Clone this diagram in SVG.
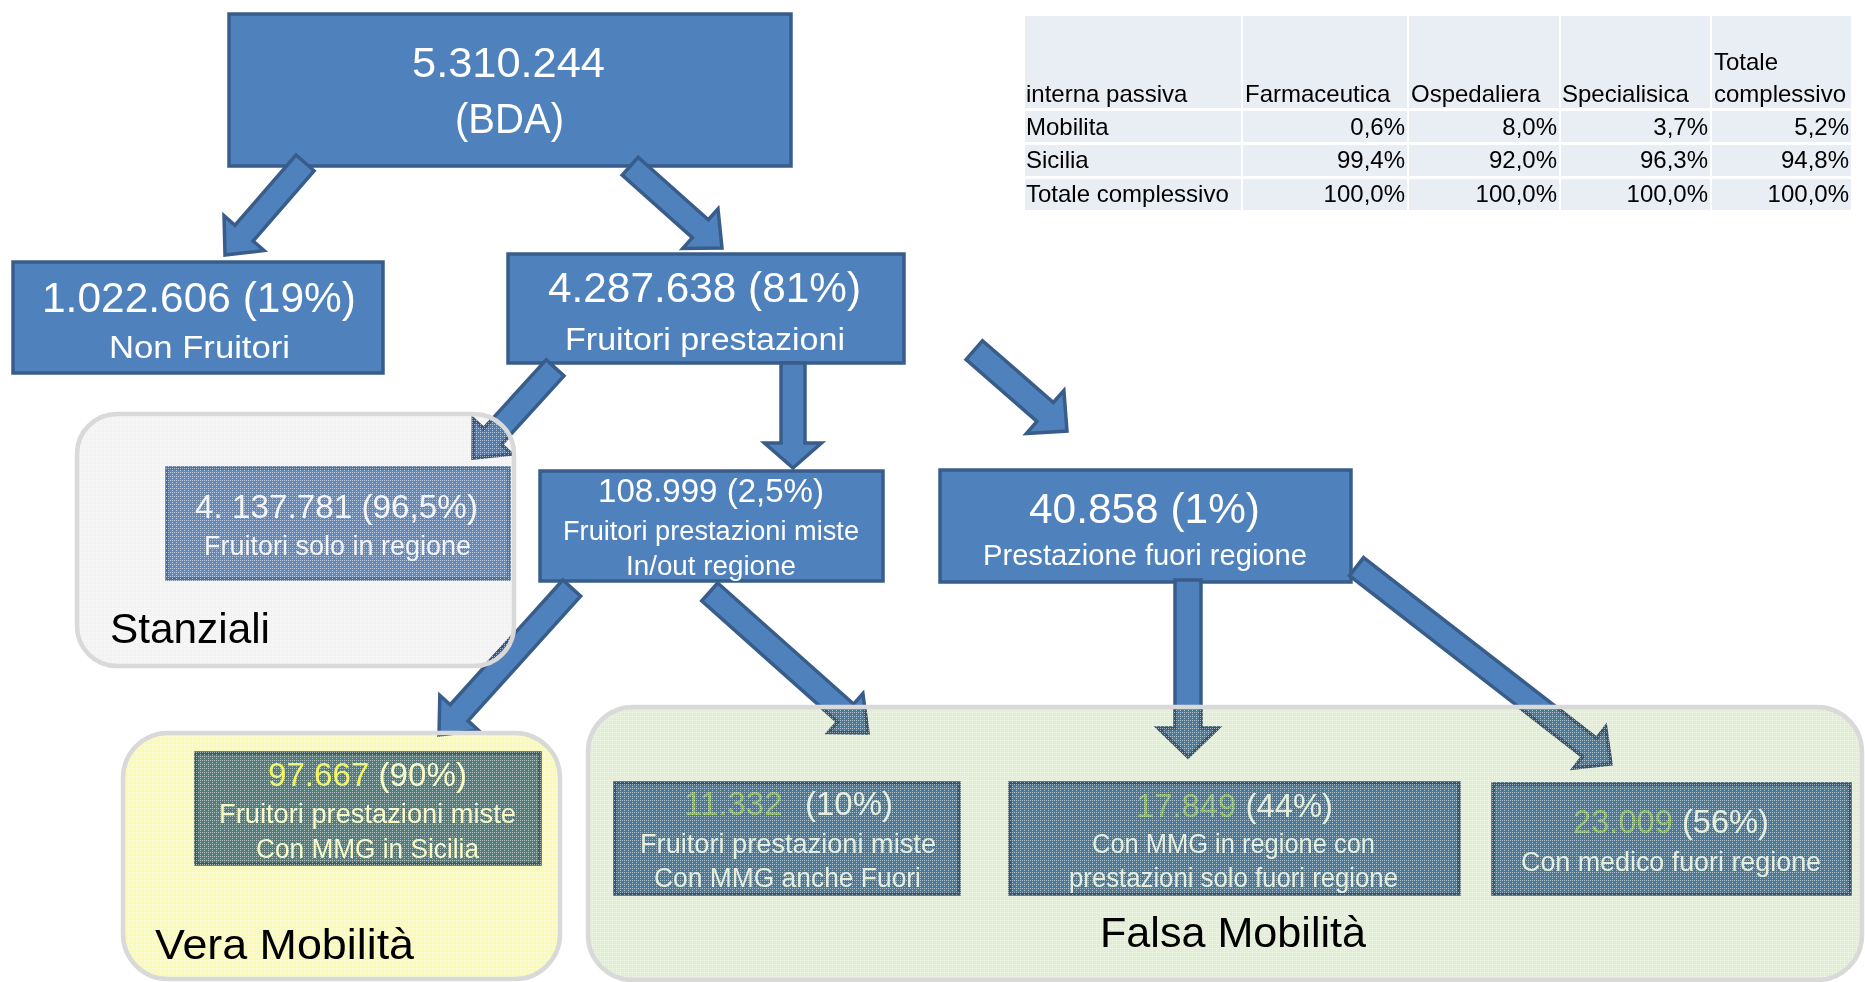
<svg xmlns="http://www.w3.org/2000/svg" width="1865" height="982" viewBox="0 0 1865 982">
<defs>
<pattern id="dots" width="4" height="4" patternUnits="userSpaceOnUse">
<rect x="0" y="0" width="1" height="1" fill="#fff"/>
<rect x="2" y="0" width="1" height="1" fill="#fff"/>
<rect x="0" y="2" width="1" height="1" fill="#fff"/>
</pattern>
</defs>
<style>
.box{fill:#4f81bd;stroke:#385d8a;stroke-width:3.5}
.boxl{fill:#6690c7;stroke:#4f76a8;stroke-width:3.5}
.arr{fill:#4f81bd;stroke:#385d8a;stroke-width:3.5;stroke-linejoin:miter}
.t{font-family:"Liberation Sans",Arial,sans-serif;fill:#fff;text-anchor:middle}
.n42{font-size:42px}
.n33{font-size:33px}
.s27{font-size:27px}
.s31{font-size:31px}
.lbl{font-family:"Liberation Sans",Arial,sans-serif;fill:#000;font-size:43px}
.tb{font-family:"Liberation Sans",Arial,sans-serif;fill:#000;font-size:24px}
.r{text-anchor:end}
.cell{fill:#e9edf4}
.ov{mix-blend-mode:multiply}
.dots{fill:url(#dots);opacity:0.55}
.frame{fill:none;stroke:#d9d9d9;stroke-width:4.5}
.yel{fill:#ffff00}
.grn{fill:#92d050}
</style>

<g id="table">
<rect class="cell" x="1025" y="16" width="216" height="92"/>
<rect class="cell" x="1243" y="16" width="164" height="92"/>
<rect class="cell" x="1409" y="16" width="150" height="92"/>
<rect class="cell" x="1561" y="16" width="149" height="92"/>
<rect class="cell" x="1712" y="16" width="139" height="92"/>
<rect class="cell" x="1025" y="111" width="216" height="31"/>
<rect class="cell" x="1243" y="111" width="164" height="31"/>
<rect class="cell" x="1409" y="111" width="150" height="31"/>
<rect class="cell" x="1561" y="111" width="149" height="31"/>
<rect class="cell" x="1712" y="111" width="139" height="31"/>
<rect class="cell" x="1025" y="145" width="216" height="31"/>
<rect class="cell" x="1243" y="145" width="164" height="31"/>
<rect class="cell" x="1409" y="145" width="150" height="31"/>
<rect class="cell" x="1561" y="145" width="149" height="31"/>
<rect class="cell" x="1712" y="145" width="139" height="31"/>
<rect class="cell" x="1025" y="179" width="216" height="31"/>
<rect class="cell" x="1243" y="179" width="164" height="31"/>
<rect class="cell" x="1409" y="179" width="150" height="31"/>
<rect class="cell" x="1561" y="179" width="149" height="31"/>
<rect class="cell" x="1712" y="179" width="139" height="31"/>
<text class="tb" x="1026" y="102">interna passiva</text>
<text class="tb" x="1245" y="102">Farmaceutica</text>
<text class="tb" x="1411" y="102">Ospedaliera</text>
<text class="tb" x="1562" y="102">Specialisica</text>
<text class="tb" x="1714" y="70">Totale</text>
<text class="tb" x="1714" y="102">complessivo</text>
<text class="tb" x="1026" y="135">Mobilita</text>
<text class="tb r" x="1405" y="135">0,6%</text>
<text class="tb r" x="1557" y="135">8,0%</text>
<text class="tb r" x="1708" y="135">3,7%</text>
<text class="tb r" x="1849" y="135">5,2%</text>
<text class="tb" x="1026" y="168">Sicilia</text>
<text class="tb r" x="1405" y="168">99,4%</text>
<text class="tb r" x="1557" y="168">92,0%</text>
<text class="tb r" x="1708" y="168">96,3%</text>
<text class="tb r" x="1849" y="168">94,8%</text>
<text class="tb" x="1026" y="202">Totale complessivo</text>
<text class="tb r" x="1405" y="202">100,0%</text>
<text class="tb r" x="1557" y="202">100,0%</text>
<text class="tb r" x="1708" y="202">100,0%</text>
<text class="tb r" x="1849" y="202">100,0%</text>
</g>

<g id="node-bda">
<rect class="box" x="229" y="14" width="562" height="152"/>
<text class="t n42" x="508.5" y="77" textLength="193" lengthAdjust="spacingAndGlyphs">5.310.244</text>
<text class="t n42" x="509.5" y="133" textLength="109" lengthAdjust="spacingAndGlyphs">(BDA)</text>
</g>

<g id="node-non-fruitori">
<rect class="box" x="13" y="262" width="370" height="111"/>
<text class="t n42" x="199" y="312" textLength="314" lengthAdjust="spacingAndGlyphs">1.022.606 (19%)</text>
<text class="t s31" x="199.5" y="358" textLength="181" lengthAdjust="spacingAndGlyphs">Non Fruitori</text>
</g>

<g id="node-fruitori">
<rect class="box" x="508" y="254" width="396" height="109"/>
<text class="t n42" x="704.5" y="302" textLength="313" lengthAdjust="spacingAndGlyphs">4.287.638 (81%)</text>
<text class="t s31" x="705" y="350" textLength="280" lengthAdjust="spacingAndGlyphs">Fruitori prestazioni</text>
</g>

<g id="node-solo-regione">
<rect class="boxl" x="167" y="468" width="342" height="111"/>
<text class="t n33" x="336.5" y="518" textLength="283" lengthAdjust="spacingAndGlyphs">4. 137.781 (96,5%)</text>
<text class="t s27" x="337.5" y="555" textLength="267" lengthAdjust="spacingAndGlyphs">Fruitori solo in regione</text>
</g>

<g id="node-miste">
<rect class="box" x="540" y="471" width="343" height="110"/>
<text class="t n33" x="711" y="502" textLength="226" lengthAdjust="spacingAndGlyphs">108.999 (2,5%)</text>
<text class="t s27" x="711" y="540" textLength="296" lengthAdjust="spacingAndGlyphs">Fruitori prestazioni miste</text>
<text class="t s27" x="711" y="575" textLength="170" lengthAdjust="spacingAndGlyphs">In/out regione</text>
</g>

<g id="node-fuori">
<rect class="box" x="940" y="470" width="411" height="112"/>
<text class="t n42" x="1144.5" y="523" textLength="231" lengthAdjust="spacingAndGlyphs">40.858 (1%)</text>
<text class="t" style="font-size:29px" x="1145" y="565" textLength="324" lengthAdjust="spacingAndGlyphs">Prestazione fuori regione</text>
</g>

<g id="node-mmg-sicilia">
<rect class="box" x="196" y="753" width="344" height="111"/>
<text class="t n33" x="367.5" y="786" textLength="199" lengthAdjust="spacingAndGlyphs"><tspan class="yel">97.667</tspan> (90%)</text>
<text class="t s27" x="367.5" y="823" textLength="297" lengthAdjust="spacingAndGlyphs">Fruitori prestazioni miste</text>
<text class="t s27" x="367.5" y="858" textLength="223" lengthAdjust="spacingAndGlyphs">Con MMG in Sicilia</text>
</g>

<g id="node-mmg-fuori">
<rect class="box" x="615" y="783" width="344" height="111"/>
<text class="t n33" style="text-anchor:start" x="684" y="815"><tspan class="grn">11.332</tspan><tspan x="805">(10%)</tspan></text>
<text class="t s27" x="788" y="853" textLength="296" lengthAdjust="spacingAndGlyphs">Fruitori prestazioni miste</text>
<text class="t s27" x="787.5" y="887" textLength="267" lengthAdjust="spacingAndGlyphs">Con MMG anche Fuori</text>
</g>

<g id="node-mmg-regione">
<rect class="box" x="1010" y="783" width="449" height="111"/>
<text class="t n33" x="1234.5" y="817" textLength="197" lengthAdjust="spacingAndGlyphs"><tspan class="grn">17.849</tspan> (44%)</text>
<text class="t s27" x="1233.5" y="853" textLength="283" lengthAdjust="spacingAndGlyphs">Con MMG in regione con</text>
<text class="t s27" x="1233.5" y="887" textLength="329" lengthAdjust="spacingAndGlyphs">prestazioni solo fuori regione</text>
</g>

<g id="node-medico-fuori">
<rect class="box" x="1493" y="784" width="357" height="110"/>
<text class="t n33" x="1671" y="833" textLength="196" lengthAdjust="spacingAndGlyphs"><tspan class="grn">23.009</tspan> (56%)</text>
<text class="t s27" x="1671" y="871" textLength="300" lengthAdjust="spacingAndGlyphs">Con medico fuori regione</text>
</g>

<g id="connectors">
<polygon class="arr" transform="translate(225,255) rotate(131)" points="-122,-12 -29,-12 -29,-26.5 0,0 -29,26.5 -29,12 -122,12"/>
<polygon class="arr" transform="translate(722,248) rotate(41.7)" points="-123,-12 -29,-12 -29,-26.5 0,0 -29,26.5 -29,12 -123,12"/>
<polygon class="arr" transform="translate(473,458) rotate(132.3)" points="-122,-12 -29,-12 -29,-26 0,0 -29,26 -29,12 -122,12"/>
<polygon class="arr" transform="translate(793,468) rotate(90)" points="-105,-12 -25,-12 -25,-28.5 0,0 -25,28.5 -25,12 -105,12"/>
<polygon class="arr" transform="translate(1067,431) rotate(41.1)" points="-123,-12.5 -29,-12.5 -29,-28.5 0,0 -29,28.5 -29,12.5 -123,12.5"/>
<polygon class="arr" transform="translate(439,735) rotate(132.1)" points="-198,-12 -30,-12 -30,-26 0,0 -30,26 -30,12 -198,12"/>
<polygon class="arr" transform="translate(868,733) rotate(41.7)" points="-212,-12 -30,-12 -30,-26 0,0 -30,26 -30,12 -212,12"/>
<polygon class="arr" transform="translate(1188,757) rotate(90)" points="-177,-13 -29,-13 -29,-30 0,0 -29,30 -29,13 -177,13"/>
<polygon class="arr" transform="translate(1611,764) rotate(37.8)" points="-322,-11.5 -27,-11.5 -27,-26 0,0 -27,26 -27,11.5 -322,11.5"/>
</g>

<g id="group-stanziali">
<rect class="ov" x="77" y="414" width="437" height="252" rx="40" fill="#f3f3f3"/>
<rect class="dots" x="77" y="414" width="437" height="252" rx="40"/>
<rect class="frame" x="77" y="414" width="437" height="252" rx="40"/>
<text class="lbl" x="110" y="643" textLength="160" lengthAdjust="spacingAndGlyphs">Stanziali</text>
</g>

<g id="group-vera">
<rect class="ov" x="123" y="733" width="437" height="246" rx="45" fill="#fdfca4"/>
<rect class="dots" x="123" y="733" width="437" height="246" rx="45"/>
<rect class="frame" x="123" y="733" width="437" height="246" rx="45"/>
<text class="lbl" x="155" y="959" textLength="259" lengthAdjust="spacingAndGlyphs">Vera Mobilità</text>
</g>

<g id="group-falsa">
<rect class="ov" x="588" y="707" width="1274" height="273" rx="45" fill="#e0efd0"/>
<rect class="dots" x="588" y="707" width="1274" height="273" rx="45"/>
<rect class="frame" x="588" y="707" width="1274" height="273" rx="45"/>
<text class="lbl" x="1100" y="947" textLength="266" lengthAdjust="spacingAndGlyphs">Falsa Mobilità</text>
</g>
</svg>
